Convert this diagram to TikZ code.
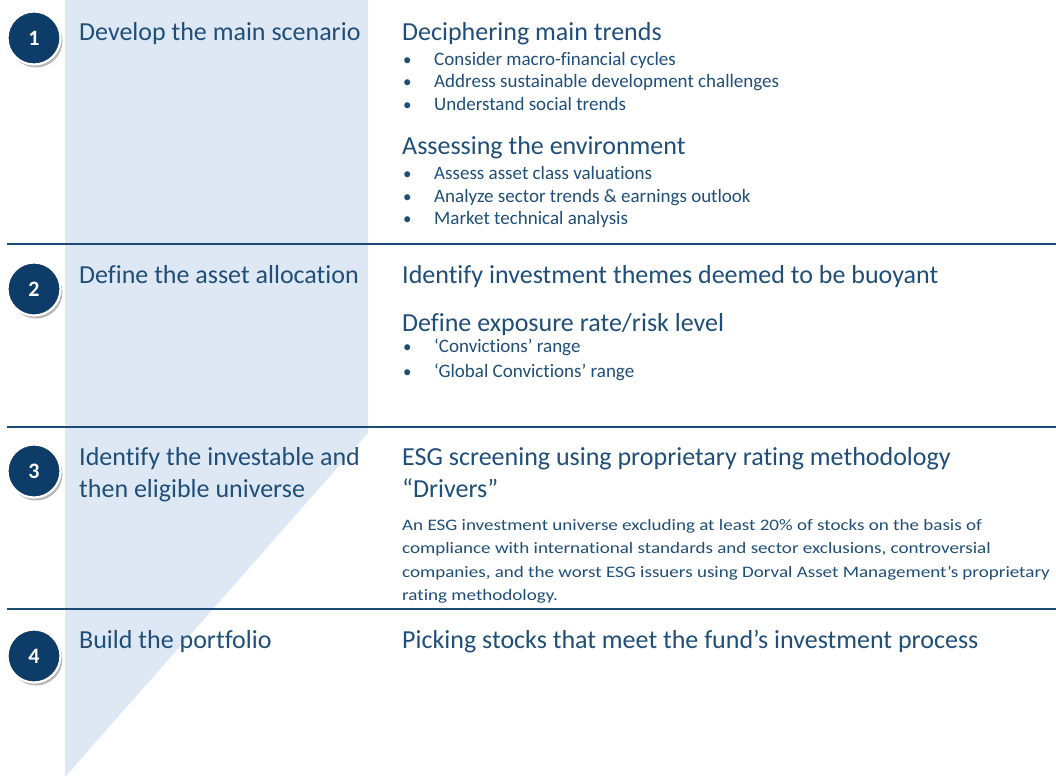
\documentclass[tikz,border=0pt]{standalone}
\usepackage{fontspec}
\setmainfont[Ligatures=NoCommon]{Carlito}
\newfontfamily\parafont[FakeStretch=1.19,Ligatures=NoCommon]{Carlito}
\usetikzlibrary{shadows}
\definecolor{txtblue}{HTML}{1F4E79}
\definecolor{navy}{HTML}{0E3C68}
\definecolor{band}{HTML}{DEE8F4}
\definecolor{rule}{HTML}{1B4A75}
\tikzset{
  numc/.style={circle, fill=navy, draw=white, line width=2.2pt, minimum size=53pt, inner sep=0pt,
    text=white, font=\bfseries\fontsize{22}{22}\selectfont,
    drop shadow={shadow xshift=2pt, shadow yshift=-3pt, opacity=0.4, fill=black!70}},
  steptitle/.style={anchor=base west, inner sep=0pt, text=txtblue, font=\fontsize{26}{26}\selectfont},
  head/.style={anchor=base west, inner sep=0pt, text=txtblue, font=\fontsize{26}{26}\selectfont},
  item/.style={anchor=base west, inner sep=0pt, text=txtblue, font=\fontsize{19}{19}\selectfont},
  dot/.style={anchor=base west, inner sep=0pt, text=txtblue, font=\fontsize{17}{17}\selectfont},
  para/.style={anchor=base west, inner sep=0pt, text=txtblue, font=\parafont\fontsize{16}{16}\selectfont},
  hrule/.style={draw=rule, line width=2.2pt}
}
\begin{document}
\begin{tikzpicture}[x=1pt,y=-1pt]
\useasboundingbox (0,0) rectangle (1056,777);
% band
\fill[band] (65,0) -- (368,0) -- (368,433) -- (65,777) -- cycle;
% rules
\coordinate (r1a) at (7,244); \coordinate (r1b) at (1056,244);
\coordinate (r2a) at (7,427); \coordinate (r2b) at (1056,427);
\coordinate (r3a) at (7,609); \coordinate (r3b) at (1056,609);
\draw[hrule] (r1a) -- (r1b);
\draw[hrule] (r2a) -- (r2b);
\draw[hrule] (r3a) -- (r3b);
% circles
\node[numc] (c1) at (34,38) {1};
\node[numc] (c2) at (34,289) {2};
\node[numc] (c3) at (34,471) {3};
\node[numc] (c4) at (34,656) {4};
% left titles
\node[steptitle] (t1) at (79,40) {Develop the main scenario};
\node[steptitle] (t2) at (79,283) {Define the asset allocation};
\node[steptitle] (t3a) at (79,465) {Identify the investable and};
\node[steptitle] (t3b) at (79,497) {then eligible universe};
\node[steptitle] (t4) at (79,648) {Build the portfolio};
% row 1
\node[head] (h1) at (402,40) {Deciphering main trends};
\node[dot] at (403,65) {\textbullet}; \node[item] (i11) at (434,65) {Consider macro-financial cycles};
\node[dot] at (403,87) {\textbullet}; \node[item] (i12) at (434,87) {Address sustainable development challenges};
\node[dot] at (403,110) {\textbullet}; \node[item] (i13) at (434,110) {Understand social trends};
\node[head] (h2) at (402,154) {Assessing the environment};
\node[dot] at (403,179) {\textbullet}; \node[item] (i21) at (434,179) {Assess asset class valuations};
\node[dot] at (403,202) {\textbullet}; \node[item] (i22) at (434,202) {Analyze sector trends \& earnings outlook};
\node[dot] at (403,224) {\textbullet}; \node[item] (i23) at (434,224) {Market technical analysis};
% row 2
\node[head] (h3) at (402,283) {Identify investment themes deemed to be buoyant};
\node[head] (h4) at (402,331) {Define exposure rate/risk level};
\node[dot] at (403,352) {\textbullet}; \node[item] (i31) at (434,352) {‘Convictions’ range};
\node[dot] at (403,377) {\textbullet}; \node[item] (i32) at (434,377) {‘Global Convictions’ range};
% row 3
\node[head] (h5) at (402,465) {ESG screening using proprietary rating methodology};
\node[head] (h6) at (402,497) {“Drivers”};
\node[para] (p1) at (402,530) {An ESG investment universe excluding at least 20\% of stocks on the basis of};
\node[para] (p2) at (402,553) {compliance with international standards and sector exclusions, controversial};
\node[para] (p3) at (402,577) {companies, and the worst ESG issuers using Dorval Asset Management’s proprietary};
\node[para] (p4) at (402,600) {rating methodology.};
% row 4
\node[head] (h7) at (402,648) {Picking stocks that meet the fund’s investment process};
\end{tikzpicture}
\end{document}
